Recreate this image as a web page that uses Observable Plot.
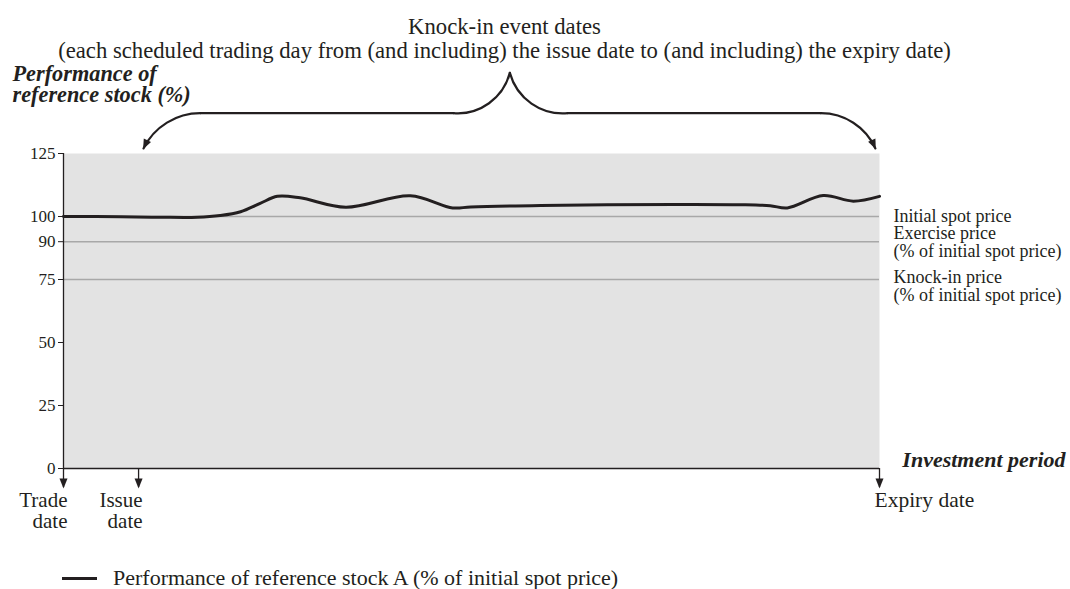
<!DOCTYPE html>
<html>
<head>
<meta charset="utf-8">
<script src="https://cdn.jsdelivr.net/npm/d3@7"></script>
<script src="https://cdn.jsdelivr.net/npm/@observablehq/plot@0.6"></script>
<style>
  html, body { margin: 0; padding: 0; background: #fff; }
  #wrap { position: relative; width: 1070px; height: 589px; overflow: hidden; }
  #legend { position: absolute; left: 62px; top: 567px; height: 22px; line-height: 22px; display: flex; align-items: center;
            font-family: "Liberation Serif", "Times New Roman", serif; font-size: 22px; color: #231f20; white-space: nowrap; }
  #legend .sw { display: inline-block; width: 35px; height: 3px; background: #231f20; margin-right: 16px; }
</style>
</head>
<body>
<div id="wrap"><div id="chart"></div><div id="legend"></div></div>
<script>
// ---- data ----
// investment period, % of the way from trade date to expiry date
const periodPct = [0, 7, 11.9, 16.4, 19.2, 21.7, 24.1, 26.2, 29, 34.6, 42.5, 47.7, 49.9, 58.5, 74.8, 83, 86.6, 88.7, 93.1, 96.8, 100];
// performance of reference stock A (% of initial spot price)
const stockPerf = [100, 99.9, 99.7, 99.7, 100.4, 101.9, 105.2, 108, 107.4, 103.7, 108.2, 103.4, 103.8, 104.4, 104.8, 104.7, 104.3, 103.4, 108.3, 106.1, 108];
const seriesName = "Performance of reference stock A (% of initial spot price)";

const yTicks = [0, 25, 50, 75, 90, 100, 125];
const refLevels = [100, 90, 75];
const refLabels = ["Initial spot price", "Exercise price\n(% of initial spot price)", "Knock-in price\n(% of initial spot price)"];

const dateNames = ["Trade\ndate", "Issue\ndate", "Expiry date"];
const datePos = [0, 9.2, 100];

const titleText = "Knock-in event dates\n(each scheduled trading day from (and including) the issue date to (and including) the expiry date)";
const yLabel = "Performance of\nreference stock (%)";
const xLabel = "Investment period";

// knock-in window brace (annotation geometry, in data units)
const braceLevel = 141, braceTipLevel = 127, bracePeakLevel = 157;
const braceX = {leftTip: 9.8, leftBend: 16.8, cuspL: 47.8, peak: 54.7, cuspR: 61.8, rightBend: 92.8, rightTip: 99.5};
const dateArrowTip = -7.5;

// ---- build ----
const ink = "#231f20";
const font = "Liberation Serif";
const series = periodPct.map((t, i) => ({t, v: stockPerf[i]}));

const braceSegs = [
  {x1: braceX.leftBend, y1: braceLevel, x2: braceX.leftTip, y2: braceTipLevel, bend: -32},
  {x1: braceX.leftBend, y1: braceLevel, x2: braceX.cuspL, y2: braceLevel, bend: 0},
  {x1: braceX.cuspL, y1: braceLevel, x2: braceX.peak, y2: bracePeakLevel, bend: -40},
  {x1: braceX.peak, y1: bracePeakLevel, x2: braceX.cuspR, y2: braceLevel, bend: -40},
  {x1: braceX.cuspR, y1: braceLevel, x2: braceX.rightBend, y2: braceLevel, bend: 0},
  {x1: braceX.rightBend, y1: braceLevel, x2: braceX.rightTip, y2: braceTipLevel, bend: 33}
];
const braceHeads = [
  {x: braceX.leftTip, y: braceTipLevel, rot: 26},
  {x: braceX.rightTip, y: braceTipLevel, rot: -24}
];

// narrow filled arrowhead, apex at the origin pointing down
const arrowHead = {
  draw(ctx) {
    ctx.moveTo(0, 1);
    ctx.lineTo(-4, -9);
    ctx.lineTo(4, -9);
    ctx.closePath();
  }
};

const chart = Plot.plot({
  width: 1070,
  height: 589,
  marginLeft: 63,
  marginRight: 191,
  marginTop: 153,
  marginBottom: 121,
  x: {domain: [0, 100], axis: null},
  y: {domain: [0, 125], axis: null},
  style: {fontFamily: font, fontSize: "17px", color: ink, background: "#fff"},
  marks: [
    Plot.frame({fill: "#e3e3e3", stroke: "none"}),
    Plot.ruleY(refLevels, {stroke: "#a8a8a8", strokeWidth: 1.5}),
    Plot.ruleX([0], {y1: 0, y2: 125, stroke: ink, strokeWidth: 1.3}),
    Plot.ruleY([0], {x1: 0, x2: 100, stroke: ink, strokeWidth: 1.3}),
    Plot.axisY(yTicks, {tickSize: 5, tickPadding: 3, fontSize: 17, stroke: ink, fill: ink, label: null}),
    Plot.line(series, {x: "t", y: "v", curve: "catmull-rom", stroke: ink, strokeWidth: 3}),
    // date arrows below the axis
    Plot.ruleX(datePos, {y1: 0, y2: dateArrowTip, stroke: ink, strokeWidth: 1.3}),
    Plot.dot(datePos, {x: d => d, y: dateArrowTip, symbol: arrowHead, fill: ink, stroke: "none", r: 4}),
    // brace over the knock-in window
    ...braceSegs.map(s => Plot.arrow([s], {x1: "x1", y1: "y1", x2: "x2", y2: "y2", bend: s.bend, headLength: 0, stroke: ink, strokeWidth: 2.2})),
    Plot.dot(braceHeads, {x: "x", y: "y", rotate: "rot", symbol: arrowHead, fill: ink, stroke: "none", r: 4}),
    // texts
    Plot.text([titleText], {text: d => d, frameAnchor: "top", dx: 33, dy: -115, fontSize: 22.7, lineHeight: 1.06, lineAnchor: "middle", textAnchor: "middle", fill: ink}),
    Plot.text([yLabel], {text: d => d, frameAnchor: "top-left", dx: -51, dy: -69, fontSize: 22.3, fontWeight: "bold", fontStyle: "italic", lineHeight: 0.96, lineAnchor: "middle", textAnchor: "start", fill: ink}),
    Plot.text([xLabel], {text: d => d, frameAnchor: "bottom-right", dx: 186, dy: -2, fontSize: 22, fontWeight: "bold", fontStyle: "italic", textAnchor: "end", fill: ink}),
    Plot.text([refLabels[0]], {text: d => d, x: 100, y: refLevels[0], dx: 14, dy: 0, fontSize: 18, textAnchor: "start", fill: ink}),
    Plot.text([refLabels[1]], {text: d => d, x: 100, y: refLevels[1], dx: 14, dy: 1, fontSize: 18, lineHeight: 1.0, textAnchor: "start", fill: ink}),
    Plot.text([refLabels[2]], {text: d => d, x: 100, y: refLevels[2], dx: 14, dy: 7, fontSize: 18, lineHeight: 1.0, textAnchor: "start", fill: ink}),
    Plot.text(dateNames.slice(0, 2), {text: d => d, x: (d, i) => datePos[i], y: 0, dx: 4, dy: 42, fontSize: 21, lineHeight: 1.0, textAnchor: "end", fill: ink}),
    Plot.text(dateNames.slice(2), {text: d => d, x: datePos[2], y: 0, dx: -5, dy: 32, fontSize: 21.5, textAnchor: "start", fill: ink})
  ]
});
document.getElementById("chart").appendChild(chart);

const lg = document.getElementById("legend");
const sw = document.createElement("span");
sw.className = "sw";
lg.appendChild(sw);
lg.appendChild(document.createTextNode(seriesName));
</script>
</body>
</html>
